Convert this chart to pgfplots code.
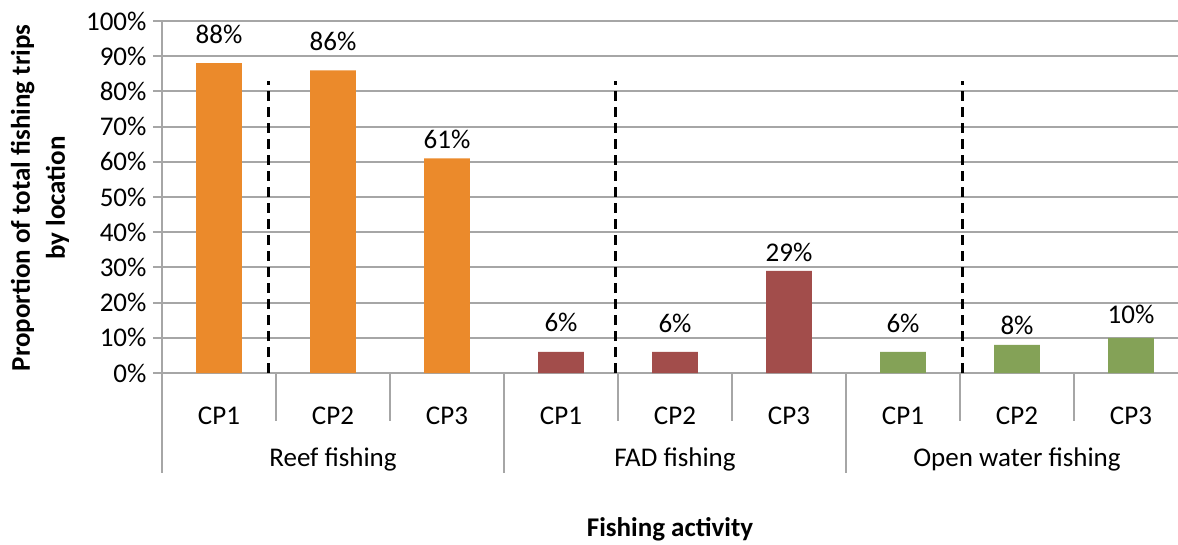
\documentclass[border=0pt]{standalone}
\usepackage{fontspec}
\setmainfont{Carlito}
\usepackage{pgfplots}
\usepackage{pgfplotstable}
\pgfplotsset{compat=1.18}
\definecolor{cOr}{HTML}{EB8A2B}
\definecolor{cRd}{HTML}{A24D4B}
\definecolor{cGr}{HTML}{84A257}
\definecolor{gridc}{HTML}{A6A6A6}
% x = category position, y = percentage, gap = label offset above bar (pt)
\pgfplotstableread{
x y gap
0 88 20
1 86 20
2 61 10
}\reef
\pgfplotstableread{
x y gap
3 6 20
4 6 19
5 29 9
}\fad
\pgfplotstableread{
x y gap
6 6 19
7 8 10
8 10 14
}\open
\begin{document}
\begin{tikzpicture}[x=1pt,y=1pt]
\useasboundingbox (0,0) rectangle (1178,544);
\begin{axis}[
  at={(162pt,171pt)}, anchor=south west,
  width=1016pt, height=352pt, scale only axis,
  xmin=-0.5, xmax=8.412, ymin=0, ymax=100,
  clip=false,
  axis x line=bottom, axis y line=left,
  axis line style={-, gridc, line width=2pt},
  ytick={0,10,...,100},
  yticklabel={\pgfmathprintnumber{\tick}\%},
  /pgf/number format/assume math mode=true,
  ymajorgrids, grid style={gridc, line width=2pt},
  tick align=outside,
  major tick length=9pt,
  y tick style={gridc, line width=2pt},
  x tick style={draw=none},
  xtick={0,...,8},
  xticklabels={CP1,CP2,CP3,CP1,CP2,CP3,CP1,CP2,CP3},
  tick label style={font=\fontsize{27}{31}\selectfont},
  xticklabel style={anchor=base, yshift=-42pt},
  yticklabel style={xshift=-3pt},
  ybar, bar width=0.4,
  visualization depends on={\thisrow{gap} \as \mygap},
  nodes near coords={\pgfmathprintnumber{\pgfplotspointmeta}\%},
  nodes near coords style={font=\fontsize{27}{31}\selectfont, anchor=base, yshift=\mygap pt, /pgf/number format/assume math mode=true},
]
\addplot[fill=cOr, draw=none, bar shift=0pt] table[x=x, y=y] {\reef};
\addplot[fill=cRd, draw=none, bar shift=0pt] table[x=x, y=y] {\fad};
\addplot[fill=cGr, draw=none, bar shift=0pt] table[x=x, y=y] {\open};
% dashed markers
\draw[black, line width=3pt, dash pattern=on 10pt off 6pt] (axis cs:0.43,0) -- (axis cs:0.43,83);
\draw[black, line width=3pt, dash pattern=on 10pt off 6pt] (axis cs:3.48,0) -- (axis cs:3.48,83);
\draw[black, line width=3pt, dash pattern=on 10pt off 6pt] (axis cs:6.52,0) -- (axis cs:6.52,83);
% category separators
\draw[gridc, line width=2pt] (axis cs:0.5,0) -- ([yshift=-48pt]axis cs:0.5,0);
\draw[gridc, line width=2pt] (axis cs:1.5,0) -- ([yshift=-48pt]axis cs:1.5,0);
\draw[gridc, line width=2pt] (axis cs:3.5,0) -- ([yshift=-48pt]axis cs:3.5,0);
\draw[gridc, line width=2pt] (axis cs:4.5,0) -- ([yshift=-48pt]axis cs:4.5,0);
\draw[gridc, line width=2pt] (axis cs:6.5,0) -- ([yshift=-48pt]axis cs:6.5,0);
\draw[gridc, line width=2pt] (axis cs:7.5,0) -- ([yshift=-48pt]axis cs:7.5,0);
% group separators
\draw[gridc, line width=2pt] (axis cs:-0.5,0) -- ([yshift=-100pt]axis cs:-0.5,0);
\draw[gridc, line width=2pt] (axis cs:2.5,0) -- ([yshift=-100pt]axis cs:2.5,0);
\draw[gridc, line width=2pt] (axis cs:5.5,0) -- ([yshift=-100pt]axis cs:5.5,0);
% group labels
\node[anchor=base, font=\fontsize{27}{31}\selectfont] at (axis cs:1,0) [yshift=-93pt] {Reef fishing};
\node[anchor=base, font=\fontsize{27}{31}\selectfont] at (axis cs:4,0) [yshift=-93pt] {FAD fishing};
\node[anchor=base, font=\fontsize{27}{31}\selectfont] at (axis cs:7,0) [yshift=-93pt] {Open water fishing};
\end{axis}
\node[anchor=base, font=\bfseries\fontsize{27}{31}\selectfont] at (670,8) {Fishing activity};
\node[rotate=90, align=center, font=\bfseries\fontsize{27}{35}\selectfont] at (40,346) {Proportion of total fishing trips\\by location};
\end{tikzpicture}
\end{document}
